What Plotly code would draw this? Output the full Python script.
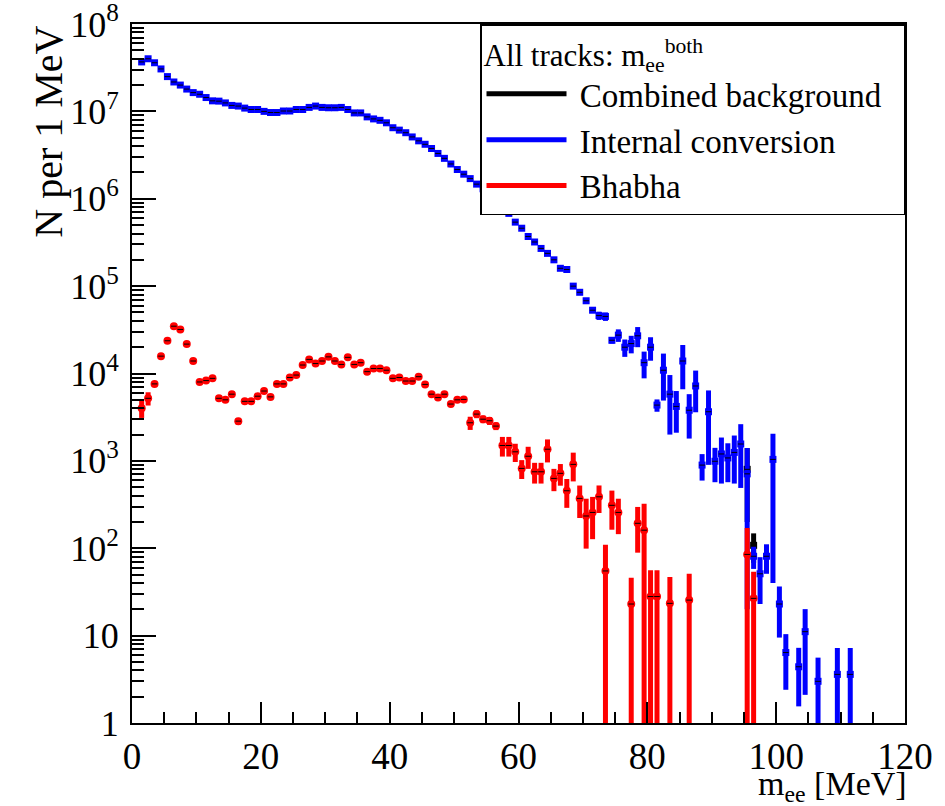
import numpy as np
import plotly.graph_objects as go

# ---------------- data (bin centres in MeV, counts per 1 MeV) ----------------
blue_x = [b + 0.5 for b in range(1, 102)] + [103.5, 104.5, 106.5, 109.5, 111.5]
blue_y = [3.68e7, 4.0e7, 3.6e7, 3.06e7, 2.5e7, 2.17e7, 2.0e7, 1.8e7, 1.64e7, 1.57e7,
          1.44e7, 1.32e7, 1.31e7, 1.25e7, 1.17e7, 1.15e7, 1.09e7, 1.05e7, 1.05e7, 1.0e7,
          9.7e6, 9.7e6, 1.01e7, 1.01e7, 1.05e7, 1.05e7, 1.11e7, 1.15e7, 1.11e7, 1.1e7,
          1.1e7, 1.11e7, 1.05e7, 9.6e6, 9.6e6, 8.65e6, 8.2e6, 7.9e6, 7.4e6, 6.5e6,
          6.1e6, 5.7e6, 5.1e6, 4.6e6, 4.2e6, 3.76e6, 3.3e6, 2.9e6, 2.5e6, 2.16e6,
          1.91e6, 1.7e6, 1.47e6, 1.3e6, 1.1e6, 9.2e5, 7.7e5, 6.8e5, 5.4e5, 4.6e5,
          3.7e5, 3.2e5, 2.7e5, 2.37e5, 2.0e5, 1.6e5, 1.55e5, 1.0e5, 8.5e4, 6.8e4,
          5.3e4, 4.6e4, 4.5e4, 2.4e4, 2.75e4, 2.0e4, 2.2e4, 2.7e4, 1.33e4, 2.0e4,
          4.35e3, 1.09e4, 5.8e3, 4.2e3, 1.39e4, 3.8e3, 7.2e3, 895, 3.65e3, 990,
          1.2e3, 1.08e3, 1.25e3, 1.56e3, 710, 81, 51, 81, 1.04e3, 23,
          6.4, 4.4, 11.1, 3.0, 3.6, 3.6]
blue_err = [1.5e5, 1.6e5, 1.5e5, 1.4e5, 1.2e5, 1.1e5, 1.0e5, 9.5e4, 9.0e4, 8.8e4,
            8.5e4, 8.0e4, 8.0e4, 7.8e4, 7.5e4, 7.4e4, 7.2e4, 7.0e4, 7.0e4, 6.9e4,
            6.8e4, 6.8e4, 6.9e4, 6.9e4, 7.0e4, 7.0e4, 7.2e4, 7.4e4, 7.2e4, 7.2e4,
            7.2e4, 7.2e4, 7.0e4, 6.8e4, 6.8e4, 6.4e4, 6.2e4, 6.1e4, 5.9e4, 5.5e4,
            5.3e4, 5.1e4, 4.8e4, 4.6e4, 4.4e4, 4.1e4, 3.9e4, 3.6e4, 3.4e4, 3.1e4,
            2.9e4, 2.8e4, 2.6e4, 2.4e4, 2.2e4, 2.0e4, 1.8e4, 1.7e4, 1.5e4, 1.4e4,
            1.3e4, 1.2e4, 1.1e4, 1.0e4, 9.0e3, 8.0e3, 8.0e3, 3.0e3, 2.5e3, 2.0e3,
            2.0e3, 5.0e3, 5.0e3, 2.0e3, 4.5e3, 4.5e3, 5.0e3, 7.0e3, 4.5e3, 6.0e3,
            700, 6.0e3, 3.8e3, 2.1e3, 7.3e3, 2.0e3, 3.6e3, 300, 2.75e3, 420,
            650, 510, 700, 1070, 690, 23, 28, 30, 1000, 13.5,
            4.0, 2.85, 9.0, 2.6, 3.6, 3.6]

red_x = [b + 0.5 for b in range(1, 76)] + [77.5, 78.5, 79.5, 80.5, 81.5, 83.5, 86.5, 95.5, 96.5]
red_y = [4.0e3, 5.2e3, 7.6e3, 1.58e4, 2.37e4, 3.48e4, 3.19e4, 2.17e4, 1.39e4, 8.0e3,
         8.3e3, 8.8e3, 5.2e3, 5.0e3, 5.8e3, 2.85e3, 4.8e3, 4.8e3, 5.5e3, 6.3e3,
         5.4e3, 7.6e3, 7.6e3, 9.0e3, 9.6e3, 1.25e4, 1.45e4, 1.3e4, 1.39e4, 1.55e4,
         1.39e4, 1.27e4, 1.53e4, 1.27e4, 1.33e4, 1.05e4, 1.14e4, 1.14e4, 1.09e4, 8.8e3,
         9.0e3, 8.2e3, 8.2e3, 9.2e3, 7.5e3, 5.8e3, 5.3e3, 5.8e3, 4.47e3, 5.0e3,
         5.05e3, 2.73e3, 3.43e3, 3.0e3, 2.88e3, 2.5e3, 1.5e3, 1.5e3, 1.27e3, 820,
         1.13e3, 750, 750, 1.36e3, 630, 720, 455, 912, 372, 234,
         257, 388, 55, 310, 257,
         23, 193, 161, 28, 28, 23.4, 25.5, 85, 26.7]
red_err = [900, 900, 500, 600, 800, 1100, 1000, 800, 600, 450,
           450, 450, 350, 350, 380, 250, 330, 330, 350, 380,
           350, 420, 420, 450, 480, 550, 600, 560, 580, 620,
           580, 550, 620, 550, 560, 480, 500, 500, 490, 430,
           440, 410, 410, 440, 390, 330, 320, 330, 300, 320,
           320, 470, 350, 300, 300, 250, 380, 380, 300, 200,
           320, 200, 200, 400, 180, 200, 165, 330, 150, 135,
           130, 135, 55, 147, 112,
           23, 104, 163, 28, 28, 23.4, 25.5, 85, 27]

comb_x = [95.5, 96.5]
comb_y = [800, 108]
comb_err = [600, 40]

x_ticks = [0, 20, 40, 60, 80, 100, 120]
x_ticktext = ["0", "20", "40", "60", "80", "100", "120"]
y_ticks = [1, 10, 1e2, 1e3, 1e4, 1e5, 1e6, 1e7, 1e8]
y_ticktext = ["1", "10", "10<sup>2</sup>", "10<sup>3</sup>", "10<sup>4</sup>",
              "10<sup>5</sup>", "10<sup>6</sup>", "10<sup>7</sup>", "10<sup>8</sup>"]
legend_names = ["Combined background", "Internal conversion", "Bhabha"]
legend_colors = ["black", "#0000ff", "#ff0000"]

FONT = "Times New Roman, Liberation Serif, Times, serif"
NB = "\u00a0"

fig = go.Figure()

# combined background (drawn first, mostly hidden)
fig.add_trace(go.Scatter(
    x=comb_x, y=comb_y, mode="markers", showlegend=False,
    marker=dict(symbol="square", size=7, color="black"),
    error_y=dict(type="data", array=comb_err, color="black", thickness=5, width=0)))

# internal conversion
fig.add_trace(go.Scatter(
    x=blue_x, y=blue_y, mode="markers", showlegend=False,
    marker=dict(symbol="square", size=7, color="#0000ff"),
    error_y=dict(type="data", array=blue_err, color="#0000ff", thickness=5, width=0)))

# Bhabha
fig.add_trace(go.Scatter(
    x=red_x, y=red_y, mode="markers", showlegend=False,
    marker=dict(symbol="circle", size=8, color="#ff0000"),
    error_y=dict(type="data", array=red_err, color="#ff0000", thickness=5, width=0)))

# small black centre dashes
for xs, ys in [(comb_x, comb_y), (blue_x, blue_y), (red_x, red_y)]:
    fig.add_trace(go.Scatter(
        x=xs, y=ys, mode="markers", showlegend=False, hoverinfo="skip",
        marker=dict(symbol="line-ew", size=4, color="black",
                    line=dict(color="black", width=1))))

# legend entries (line samples)
for name, col in zip(legend_names, legend_colors):
    fig.add_trace(go.Scatter(x=[None], y=[None], mode="lines",
                             name=NB + name + NB + NB,
                             line=dict(color=col, width=5)))

minor_y = [m * 10 ** d for d in range(8) for m in range(2, 10)]

fig.update_layout(
    width=945, height=806,
    margin=dict(l=132, r=40, t=24, b=83, autoexpand=False),
    paper_bgcolor="white", plot_bgcolor="white",
    font=dict(family=FONT, color="black", size=33),
    showlegend=True,
    legend=dict(
        x=1, xanchor="right", y=1, yanchor="top",
        bgcolor="white", bordercolor="black", borderwidth=1.5,
        font=dict(family=FONT, size=33, color="black"),
        title=dict(text="All tracks: m<sub>ee</sub><sup>both</sup>",
                   font=dict(family=FONT, size=31, color="black")),
        itemwidth=80, tracegroupgap=0,
    ),
    xaxis=dict(
        range=[0, 120], tickmode="array", tickvals=x_ticks, ticktext=x_ticktext,
        ticks="inside", ticklen=21, tickwidth=1.5, tickcolor="black",
        minor=dict(ticks="inside", ticklen=11, tickwidth=1.5, tickcolor="black",
                   tickvals=list(range(0, 121, 5))),
        showline=True, linewidth=2, linecolor="black", mirror=True,
        showgrid=False, zeroline=False, automargin=False,
        tickfont=dict(family=FONT, size=37, color="black"),
        ticklabeloverflow="allow",
    ),
    yaxis=dict(
        type="log", range=[0, 8], tickmode="array", tickvals=y_ticks, ticktext=y_ticktext,
        ticks="inside", ticklen=24, tickwidth=1.5, tickcolor="black",
        minor=dict(ticks="inside", ticklen=12, tickwidth=1.5, tickcolor="black",
                   tickvals=minor_y),
        showline=True, linewidth=2, linecolor="black", mirror=True,
        showgrid=False, zeroline=False, automargin=False,
        tickfont=dict(family=FONT, size=36, color="black"),
        ticklabelstandoff=4, ticklabeloverflow="allow",
    ),
    annotations=[
        dict(text="N per 1 MeV", xref="paper", yref="paper", x=-0.109, y=1.0,
             xanchor="center", yanchor="top", textangle=-90, showarrow=False,
             font=dict(family=FONT, size=40, color="black")),
        dict(text="m<sub>ee</sub> [MeV]", xref="paper", yref="paper", x=1.0, y=-0.090,
             xanchor="right", yanchor="middle", xshift=4, showarrow=False,
             font=dict(family=FONT, size=34, color="black")),
    ],
)

fig.write_html("out.html")
